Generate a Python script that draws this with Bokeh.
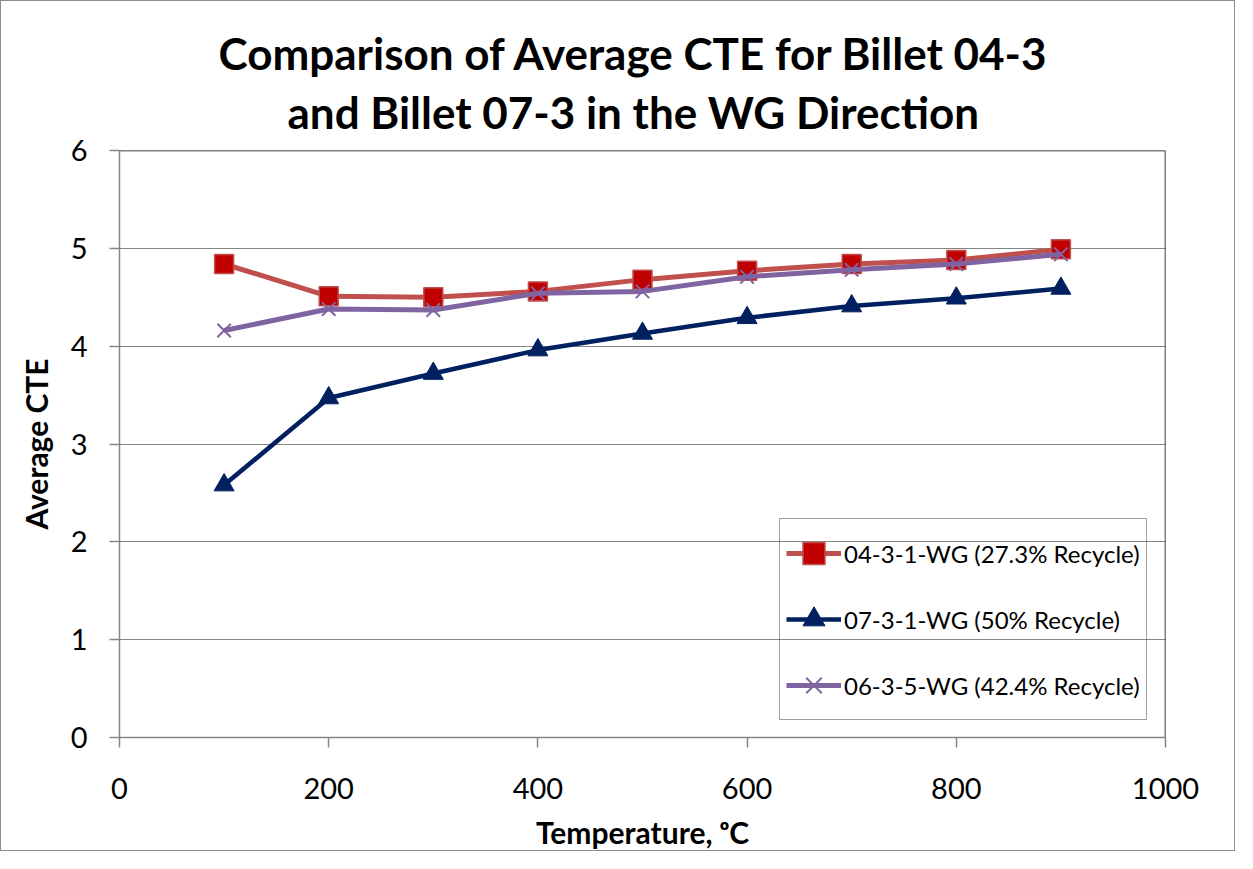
from bokeh.plotting import figure
from bokeh.models import Range1d, FixedTicker, Span, Legend, LegendItem, Title
from bokeh.embed import file_html
from bokeh.resources import INLINE

temperature = [100, 200, 300, 400, 500, 600, 700, 800, 900]
cte_04_3_1 = [4.84, 4.51, 4.50, 4.56, 4.68, 4.77, 4.84, 4.88, 4.99]
cte_07_3_1 = [2.58, 3.47, 3.72, 3.96, 4.13, 4.29, 4.41, 4.49, 4.59]
cte_06_3_5 = [4.16, 4.38, 4.37, 4.54, 4.56, 4.71, 4.78, 4.84, 4.94]
series_names = ["04-3-1-WG (27.3% Recycle)", "07-3-1-WG (50% Recycle)", "06-3-5-WG (42.4% Recycle)"]
title_lines = ["Comparison of Average CTE for Billet 04-3", "and Billet 07-3 in the WG Direction"]
x_ticks = [0, 200, 400, 600, 800, 1000]
y_ticks = [0, 1, 2, 3, 4, 5, 6]

FONT = "Lato"
GRAY = "#868686"

p = figure(width=1235, height=851, output_backend="svg", toolbar_location=None,
           x_range=Range1d(0, 1000), y_range=Range1d(0, 6),
           min_border_left=118, min_border_right=71, min_border_top=149, min_border_bottom=114)
p.styles = {"border": "1px solid #8c8c8c"}
p.outline_line_color = None
p.background_fill_color = "white"
p.border_fill_color = "white"

def style_title(t, standoff, offset):
    t.align = "left"
    t.text_font = FONT
    t.text_font_size = "44px"
    t.text_font_style = "bold"
    t.text_color = "black"
    t.text_line_height = 0.9
    t.standoff = standoff
    t.offset = offset

p.title.text = title_lines[0]
style_title(p.title, -15, 99)
t2 = Title(text=title_lines[1])
style_title(t2, 25, 168)
p.add_layout(t2, "above")

for ax in (p.xaxis[0], p.yaxis[0]):
    ax.axis_line_color = GRAY
    ax.axis_line_width = 1.5
    ax.major_tick_line_color = GRAY
    ax.major_tick_line_width = 1.5
    ax.major_tick_out = 10
    ax.major_tick_in = 0
    ax.minor_tick_line_color = None
    ax.major_label_text_font = FONT
    ax.major_label_text_font_size = "29px"
    ax.major_label_text_color = "black"
    ax.axis_label_text_font = FONT
    ax.axis_label_text_font_style = "bold"
    ax.axis_label_text_color = "black"
    ax.axis_label_text_font_size = "30px"

p.xaxis[0].ticker = FixedTicker(ticks=x_ticks)
p.yaxis[0].ticker = FixedTicker(ticks=y_ticks)
p.xaxis[0].major_label_standoff = 30
p.yaxis[0].major_label_standoff = 22
p.xaxis[0].axis_label = "Temperature, ᵒC"
p.yaxis[0].axis_label = "Average CTE"
p.xaxis[0].axis_label_standoff = 12
p.yaxis[0].axis_label_standoff = 14

p.xgrid.grid_line_color = None
p.ygrid.grid_line_color = GRAY
p.ygrid.grid_line_width = 1.2

p.add_layout(Span(location=6, dimension="width", line_color="black", line_width=1.5))
p.add_layout(Span(location=1000, dimension="height", line_color="black", line_width=1.5))

r1l = p.line(temperature, cte_04_3_1, line_color="#C0504D", line_width=5)
r1m = p.scatter(temperature, cte_04_3_1, marker="square", size=19, fill_color="#C00000",
                line_color="#C0504D", line_width=1.5)
r2l = p.line(temperature, cte_07_3_1, line_color="#002060", line_width=4.5)
r2m = p.scatter(temperature, cte_07_3_1, marker="triangle", size=20, fill_color="#002060",
                line_color="#002060", line_width=1)
r3l = p.line(temperature, cte_06_3_5, line_color="#8064A2", line_width=5)
r3m = p.scatter(temperature, cte_06_3_5, marker="x", size=19, line_color="#8064A2", line_width=2)

legend = Legend(items=[
    LegendItem(label=series_names[0], renderers=[r1l, r1m]),
    LegendItem(label=series_names[1], renderers=[r2l, r2m]),
    LegendItem(label=series_names[2], renderers=[r3l, r3m]),
], location=(660, 17))
legend.margin = 0
legend.padding = 6
legend.spacing = 10
legend.glyph_width = 55
legend.glyph_height = 56
legend.label_height = 56
legend.label_standoff = 3
legend.label_text_font = FONT
legend.label_text_font_size = "24px"
legend.label_text_color = "black"
legend.background_fill_alpha = 0
legend.border_line_color = "#404040"
legend.border_line_width = 1.2
p.add_layout(legend, "center")

open("out.html", "w").write(file_html(p, INLINE))
